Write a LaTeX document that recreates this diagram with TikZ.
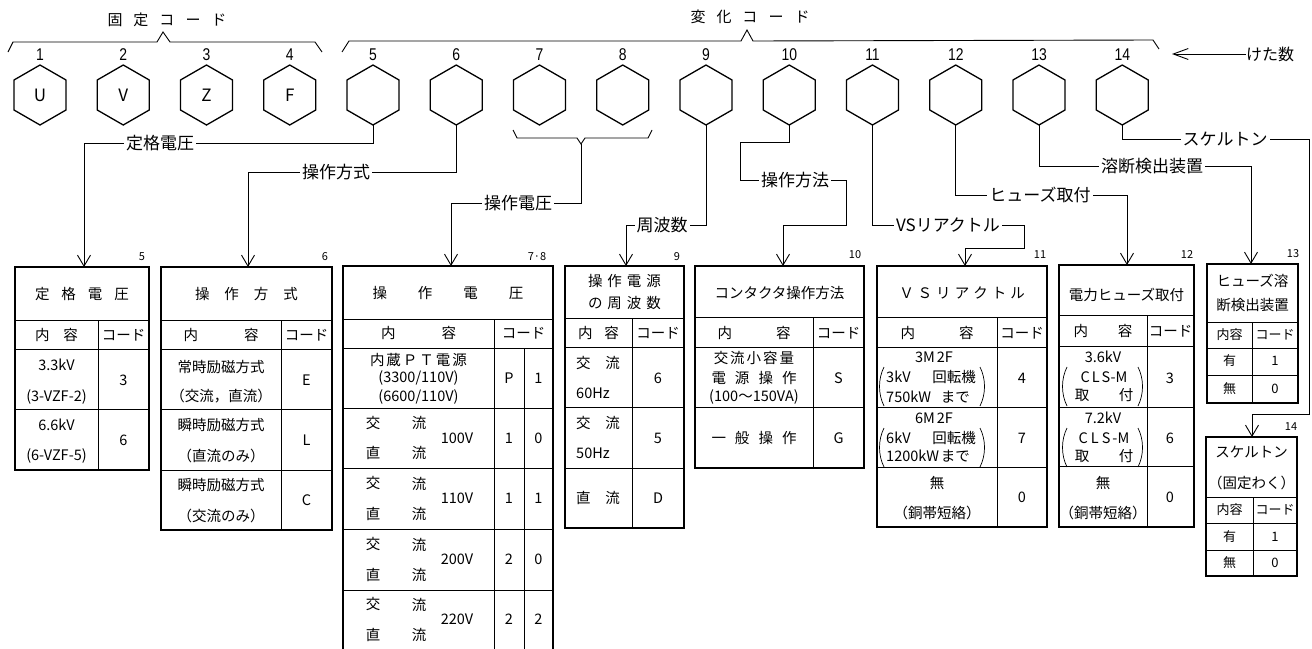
\documentclass[tikz,border=0pt]{standalone}
\usepackage{fontspec}
\setmainfont{Noto Sans CJK JP}
\newfontfamily\numfont[FakeStretch=0.82]{Liberation Sans}
\usetikzlibrary{arrows.meta}
\newcommand{\myfs}[1]{\fontsize{#1}{#1}\selectfont}
\newcommand{\gp}[1]{\hspace{#1pt}}
\begin{document}
\begin{tikzpicture}[x=1pt,y=-1pt,
  hexd/.style={line width=1.3pt,line join=miter},
  conn/.style={line width=0.9pt},
  arr/.style={conn,-{Straight Barb[length=11pt,width=13pt]}},
  lbl/.style={fill=white,inner sep=2pt,font=\myfs{17}},
  tt/.style={inner sep=0pt,font=\myfs{14.5}},
  ts/.style={inner sep=0pt,font=\myfs{13}},
  ob/.style={line width=1.6pt},
  ib/.style={line width=0.8pt},
  tn/.style={inner sep=0pt,font=\myfs{11}},
  pr/.style={line width=0.7pt}
]
\useasboundingbox (0,0) rectangle (1312,648);
\fill[white] (0,0) rectangle (1312,648);
\clip (0,0) rectangle (1312,648);

% ---------- hexagons ----------
\foreach \i in {1,...,14}{
  \pgfmathsetmacro\hexx{40+(\i-1)*83.25}
  \draw[hexd] (\hexx,65) -- ++(26,15) -- ++(0,30) -- ++(-26,15) -- ++(-26,-15) -- ++(0,-30) -- cycle;
  \node[font=\numfont\myfs{17},inner sep=0pt] (n\i) at (\hexx,55) {\i};
  \coordinate (hb\i) at (\hexx,125);
}
\node[font=\myfs{17},inner sep=0pt] (u1) at (40,95) {U};
\node[font=\myfs{17},inner sep=0pt] (u2) at (123.25,95) {V};
\node[font=\myfs{17},inner sep=0pt] (u3) at (206.5,95) {Z};
\node[font=\myfs{17},inner sep=0pt] (u4) at (289.75,95) {F};

% ---------- brackets and titles ----------
\draw[conn] (8,52) -- (13,42) -- (157,42) -- (163,32) -- (170,42) -- (315,42) -- (322,52);
\node[font=\myfs{15},inner sep=0pt] (fixed) at (167,20) {固\gp{11}定\gp{11}コ\gp{11}ー\gp{11}ド};
\draw[conn] (342,52) -- (349,41) -- (741,41) -- (747,30) -- (753,41) -- (1153,40) -- (1159,49);
\node[font=\myfs{15},inner sep=0pt] (vary) at (750,17) {変\gp{11}化\gp{11}コ\gp{11}ー\gp{11}ド};
\node[font=\myfs{16},inner sep=0pt,anchor=west] (keta) at (1246,54) {けた数};
\draw[conn,-{Straight Barb[length=15pt,width=11pt]}] (keta.west) -- (1172,54);

% ---------- table anchor coordinates ----------
\coordinate (t5) at (84,267);
\coordinate (t6) at (248,267);
\coordinate (t78) at (451,266);
\coordinate (t9) at (626,266);
\coordinate (t10) at (783,266);
\coordinate (t11) at (965,266);
\coordinate (t12) at (1127,265);
\coordinate (t13) at (1251,264);
\coordinate (t14) at (1252,437);

% ---------- connectors ----------
\draw[arr] (hb5) -- (373,143) -| (t5);
\node[lbl] (l5) at (160,143) {定格電圧};
\draw[arr] (hb6) -- (456.25,172) -| (t6);
\node[lbl] (l6) at (336,172) {操作方式};
\draw[conn] (513,130) -- (517,138) -- (577,138) -- (581,144) -- (585,138) -- (648,138) -- (652,130);
\coordinate (br78) at (581,144);
\draw[arr] (br78) -- (581,203) -| (t78);
\node[lbl] (l78) at (518,203) {操作電圧};
\draw[arr] (hb9) -- (706,225) -| (t9);
\node[lbl] (l9) at (662,225) {周波数};
\draw[arr] (hb10) -- (789.25,142) -- (740,142) -- (740,180) -- (846,180) -- (846,225) -| (t10);
\node[lbl] (l10) at (795,180) {操作方法};
\draw[arr] (hb11) -- (872.5,225) -- (1024,225) -- (1024,248) -| (t11);
\node[lbl] (l11) at (948,225) {VSリアクトル};
\draw[arr] (hb12) -- (955.75,195) -| (t12);
\node[lbl] (l12) at (1040,195) {ヒューズ取付};
\draw[arr] (hb13) -- (1039,166) -| (t13);
\node[lbl] (l13) at (1152,166) {溶断検出装置};
\draw[arr] (hb14) -- (1122.25,139) -- (1309,139) -- (1309,414) -| (t14);
\node[lbl] (l14) at (1225,139) {スケルトン};

% ---------- table 5 ----------
\draw[ib] (15,320)--(149,320) (15,349)--(149,349) (15,409)--(149,409) (98,320)--(98,470);
\draw[ob] (15,267) rectangle (149,470);
\node[tn] (k5) at (142,257) {5};
\node[tt] (a5) at (82,294) {定\gp{12}格\gp{12}電\gp{12}圧};
\node[tt] (b5) at (56.5,335) {内\gp{14}容};
\node[tt] (c5) at (123.5,335) {コード};
\node[tt] (d5) at (56.5,365) {3.3kV};
\node[tt] (e5) at (56.5,397) {(3-VZF-2)};
\node[tt] (f5) at (123.5,380) {3};
\node[tt] (g5) at (56.5,425) {6.6kV};
\node[tt] (h5) at (56.5,456) {(6-VZF-5)};
\node[tt] (i5) at (123.5,440) {6};

% ---------- table 6 ----------
\draw[ib] (161,320)--(332,320) (161,349)--(332,349) (161,409)--(332,409) (161,470)--(332,470) (281,320)--(281,530);
\draw[ob] (161,267) rectangle (332,530);
\node[tn] (k6) at (325,257) {6};
\node[tt] (a6) at (246.5,294) {操\gp{15}作\gp{15}方\gp{15}式};
\node[tt] (b6) at (221,335) {内\gp{46}容};
\node[tt] (c6) at (306.5,335) {コード};
\node[tt] (d6) at (221,367) {常時励磁方式};
\node[tt] (e6) at (221,396) {（交流，直流）};
\node[tt] (f6) at (306.5,380) {E};
\node[tt] (g6) at (221,425) {瞬時励磁方式};
\node[tt] (h6) at (221,456) {（直流のみ）};
\node[tt] (i6) at (306.5,440) {L};
\node[tt] (j6) at (221,485) {瞬時励磁方式};
\node[tt] (m6) at (221,516) {（交流のみ）};
\node[tt] (o6) at (306.5,500) {C};

% ---------- table 7-8 ----------
\draw[ib] (343,319)--(553,319) (343,348)--(553,348) (343,408)--(553,408) (343,468)--(553,468)
  (343,529)--(553,529) (343,590)--(553,590) (494,319)--(494,660) (524,348)--(524,660);
\draw[ob] (343,266) rectangle (553,660);
\node[tn] (k78) at (537,257) {7·8};
\node[tt] (a78) at (448,293) {操\gp{31}作\gp{31}電\gp{31}圧};
\node[tt] (b78) at (418.5,333) {内\gp{46}容};
\node[tt] (c78) at (523.5,333) {コード};
\node[tt] (d78) at (418.5,360) {内\gp{2}蔵\gp{2}Ｐ\gp{2}Ｔ\gp{2}電\gp{2}源};
\node[tt] (e78) at (418.5,378) {(3300/110V)};
\node[tt] (f78) at (418.5,397) {(6600/110V)};
\node[tt] (p78) at (509,378) {P};
\node[tt] (q78) at (538.5,378) {1};
\foreach \r/\yy/\vv/\ca/\cb in {1/438/100V/1/0, 2/498.5/110V/1/1, 3/559.5/200V/2/0, 4/619.5/220V/2/2}{
  \node[tt] (x\r a) at (373,\yy-15) {交};
  \node[tt] (x\r b) at (419,\yy-15) {流};
  \node[tt] (x\r c) at (373,\yy+15) {直};
  \node[tt] (x\r d) at (419,\yy+15) {流};
  \node[tt] (x\r e) at (457,\yy) {\vv};
  \node[tt] (x\r f) at (509,\yy) {\ca};
  \node[tt] (x\r g) at (538.5,\yy) {\cb};
}

% ---------- table 9 ----------
\draw[ib] (565,318)--(684,318) (565,347)--(684,347) (565,407)--(684,407) (565,468)--(684,468) (632,318)--(632,528);
\draw[ob] (565,266) rectangle (684,528);
\node[tn] (k9) at (677,257) {9};
\node[tt] (a9) at (624.5,281) {操\gp{5}作\gp{5}電\gp{5}源};
\node[tt] (a9b) at (624.5,303) {の\gp{5}周\gp{5}波\gp{5}数};
\node[tt] (b9) at (598.5,333) {内\gp{12}容};
\node[tt] (c9) at (658,333) {コード};
\node[tt] (d9) at (598,363) {交\gp{15}流};
\node[tt,anchor=west] (e9) at (576,393) {60Hz};
\node[tt] (f9) at (658,378) {6};
\node[tt] (g9) at (598,423) {交\gp{15}流};
\node[tt,anchor=west] (h9) at (576,453) {50Hz};
\node[tt] (i9) at (658,438) {5};
\node[tt] (j9) at (598,498) {直\gp{15}流};
\node[tt] (m9) at (658,498) {D};

% ---------- table 10 ----------
\draw[ib] (695,317)--(864,317) (695,347)--(864,347) (695,407)--(864,407) (813,317)--(813,468);
\draw[ob] (695,266) rectangle (864,468);
\node[tn] (k10) at (855,255) {10};
\node[tt] (a10) at (779.5,293) {コンタクタ操作方法};
\node[tt] (b10) at (754,333) {内\gp{44}容};
\node[tt] (c10) at (838.5,333) {コード};
\node[tt] (d10) at (754,358) {交\gp{2}流\gp{2}小\gp{2}容\gp{2}量};
\node[tt] (e10) at (754,378) {電\gp{9}源\gp{9}操\gp{9}作};
\node[tt] (f10) at (754,397) {(100〜150VA)};
\node[tt] (g10) at (838.5,378) {S};
\node[tt] (h10) at (754,438) {一\gp{9}般\gp{9}操\gp{9}作};
\node[tt] (i10) at (838.5,438) {G};

% ---------- table 11 ----------
\draw[ib] (877,317)--(1047,317) (877,347)--(1047,347) (877,407)--(1047,407) (877,467)--(1047,467) (997,317)--(997,527);
\draw[ob] (877,266) rectangle (1047,527);
\node[tn] (k11) at (1040,255) {11};
\node[tt] (a11) at (962,293) {Ｖ\gp{4}Ｓ\gp{4}リ\gp{4}ア\gp{4}ク\gp{4}ト\gp{4}ル};
\node[tt] (b11) at (937,333) {内\gp{44}容};
\node[tt] (c11) at (1022,333) {コード};
\node[tt] (d11) at (934,357) {3M\gp{2}2F};
\node[tt,anchor=west] (e11) at (886,377) {3kV};
\node[tt,anchor=east] (e11b) at (976,377) {回転機};
\node[tt,anchor=west] (f11) at (886,397) {750kW};
\node[tt,anchor=east] (f11b) at (970,397) {まで};
\draw[pr] (884,367) .. controls (878,379) and (878,394) .. (884,406);
\draw[pr] (980,367) .. controls (986,379) and (986,394) .. (980,406);
\node[tt] (g11) at (1022,378) {4};
\node[tt] (h11) at (934,418) {6M\gp{2}2F};
\node[tt,anchor=west] (i11) at (886,438) {6kV};
\node[tt,anchor=east] (i11b) at (976,438) {回転機};
\node[tt,anchor=west] (j11) at (886,456) {1200kW};
\node[tt,anchor=east] (j11b) at (970,456) {まで};
\draw[pr] (884,428) .. controls (878,440) and (878,455) .. (884,467);
\draw[pr] (980,428) .. controls (986,440) and (986,455) .. (980,467);
\node[tt] (m11) at (1022,438) {7};
\node[tt] (o11) at (937,483) {無};
\node[tt] (p11) at (937,513) {（銅帯短絡）};
\node[tt] (q11) at (1022,497) {0};

% ---------- table 12 ----------
\draw[ib] (1059,315)--(1194,315) (1059,346)--(1194,346) (1059,407)--(1194,407) (1059,466)--(1194,466) (1147,315)--(1147,527);
\draw[ob] (1059,265) rectangle (1194,527);
\node[tn] (k12) at (1187,255) {12};
\node[tt] (a12) at (1126.5,295) {電力ヒューズ取付};
\node[tt] (b12) at (1103,331) {内\gp{30}容};
\node[tt] (c12) at (1170.5,331) {コード};
\node[tt] (d12) at (1103,357) {3.6kV};
\node[tt] (e12) at (1104,377) {C\gp{2}L\gp{2}S-M};
\node[tt] (f12) at (1082,395) {取};
\node[tt] (f12b) at (1126,395) {付};
\draw[pr] (1067,367) .. controls (1061,379) and (1061,394) .. (1067,406);
\draw[pr] (1138,367) .. controls (1144,379) and (1144,394) .. (1138,406);
\node[tt] (g12) at (1170,378) {3};
\node[tt] (h12) at (1103,418) {7.2kV};
\node[tt] (i12) at (1104,438) {C\gp{3}L\gp{3}S\gp{2}-M};
\node[tt] (j12) at (1082,456) {取};
\node[tt] (j12b) at (1126,456) {付};
\draw[pr] (1067,428) .. controls (1061,440) and (1061,455) .. (1067,467);
\draw[pr] (1138,428) .. controls (1144,440) and (1144,455) .. (1138,467);
\node[tt] (m12) at (1170,438) {6};
\node[tt] (o12) at (1103,483) {無};
\node[tt] (p12) at (1103,513) {（銅帯短絡）};
\node[tt] (q12) at (1170,497) {0};

% ---------- table 13 ----------
\draw[ib] (1207,322)--(1298,322) (1207,348)--(1298,348) (1207,375)--(1298,375) (1252,322)--(1252,403);
\draw[ob] (1207,264) rectangle (1298,403);
\node[tn] (k13) at (1293,254) {13};
\node[tt] (a13) at (1252.5,281) {ヒューズ溶};
\node[tt] (a13b) at (1252.5,305) {断検出装置};
\node[ts] (b13) at (1229.5,335) {内容};
\node[ts] (c13) at (1275,335) {コード};
\node[ts] (d13) at (1229.5,361) {有};
\node[ts] (e13) at (1275,361) {1};
\node[ts] (f13) at (1229.5,389) {無};
\node[ts] (g13) at (1275,389) {0};

% ---------- table 14 ----------
\draw[ib] (1206,497)--(1297,497) (1206,523)--(1297,523) (1206,550)--(1297,550) (1253,497)--(1253,576);
\draw[ob] (1206,437) rectangle (1297,576);
\node[tn] (k14) at (1291,427) {14};
\node[tt] (a14) at (1251.5,452) {スケルトン};
\node[tt] (a14b) at (1251.5,483) {（固定わく）};
\node[ts] (b14) at (1229.5,510) {内容};
\node[ts] (c14) at (1275,510) {コード};
\node[ts] (d14) at (1229.5,537) {有};
\node[ts] (e14) at (1275,537) {1};
\node[ts] (f14) at (1229.5,563) {無};
\node[ts] (g14) at (1275,563) {0};
\end{tikzpicture}
\end{document}
